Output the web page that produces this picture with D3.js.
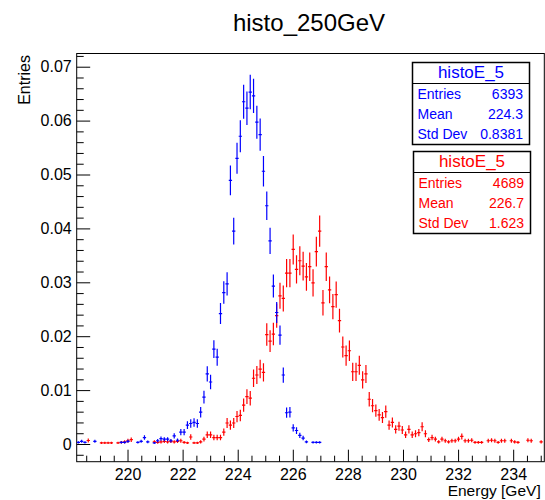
<!DOCTYPE html>
<html>
<head>
<meta charset="utf-8">
<script src="https://cdn.jsdelivr.net/npm/d3@7/dist/d3.min.js"></script>
<style>
  body { margin: 0; background: #fff; }
  svg { display: block; font-family: "Liberation Sans", Arial, Helvetica, sans-serif; }
</style>
</head>
<body>
<div id="histo"></div>
<script>
// histogram binning (low edge of bin 0, bin width in GeV)
const binLow = 218.155;
const binWidth = 0.12;

// blue: histoE_5 (normalised to 1)
const blueEntries = 6393;
const blueBin = [0,1,2,5,13,14,15,18,19,20,21,
  23,24,25,26,27,28,29,30,31,32,33,34,35,36,37,38,39,40,41,42,43,44,45,46,47,48,49,50,
  51,52,53,54,55,56,57,58,59,60,61,62,63,64,65,66,67,68,69,71,72,73];
const blueVal = [0.0003,0.0005,0.0003,0.0005,0.0003,0.0003,0.0005,0.0003,0.0005,0.0012,0.0004,
  0.0002,0.0006,0.0010,0.0009,0.0009,0.0006,0.0015,0.0007,0.0022,0.0022,0.0035,0.0038,0.0040,0.0038,
  0.0059,0.0087,0.0130,0.0115,0.0176,0.0161,0.0242,0.0281,0.0297,0.0489,0.0395,0.0530,0.0571,0.0635,
  0.0623,0.0653,0.0646,0.0597,0.0574,0.0506,0.0442,0.0377,0.0293,0.0244,0.0202,0.0128,0.0058,0.0059,
  0.0030,0.0025,0.0016,0.0011,0.0004,0.0003,0.0003,0.0003];

// red: histoE_5 (normalised to 1)
const redEntries = 4689;
const redBin = [3,7,8,9,10,12,13,14,15,16,
  23,24,25,26,27,28,29,30,31,32,33,34,35,36,37,38,39,40,41,42,43,44,45,46,47,48,49,50,
  51,52,53,54,55,56,57,58,59,60,61,62,63,64,65,66,67,68,69,70,71,72,73,74,75,76,77,78,79,80,
  81,82,83,84,85,86,87,88,89,90,91,92,93,94,95,96,97,98,99,100,101,102,103,104,105,106,107,108,109,110,
  111,112,113,114,115,116,117,118,119,120,121,122,124,125,126,127,128,129,131,132,133,136,137,140];
const redVal = [0.00065,0.0002,0.0002,0.0002,0.0002,0.0002,0.0003,0.0004,0.0006,0.0008,
  0.0004,0.0003,0.0004,0.0005,0.0004,0.0005,0.0004,0.0005,0.0006,0.0003,0.0002,0.0013,0.0002,0.0002,
  0.0004,0.0009,0.0017,0.0017,0.0012,0.0012,0.0012,0.0022,0.0039,0.0035,0.0039,0.0051,0.0053,0.0072,
  0.0088,0.0085,0.0122,0.0128,0.0139,0.0133,0.0203,0.0191,0.0204,0.0238,0.0275,0.0270,0.0317,0.0317,
  0.0361,0.0324,0.0340,0.0330,0.0310,0.0329,0.0299,0.0357,0.0395,0.0262,0.0329,0.0286,0.0255,0.0277,
  0.0229,0.0180,0.0164,0.0173,0.0134,0.0134,0.0146,0.0119,0.0130,0.0083,0.0071,0.0062,0.0054,0.0049,
  0.0060,0.0035,0.0040,0.0027,0.0033,0.0026,0.0017,0.0027,0.0017,0.0019,0.0021,0.0032,0.0019,0.0008,
  0.0012,0.0009,0.0004,0.0009,0.0006,0.0004,0.0006,0.0006,0.0009,0.0014,0.0006,0.0006,0.0007,0.0003,
  0.0003,0.0003,0.0006,0.0007,0.0006,0.0003,0.0006,0.0006,0.0006,0.0004,0.0003,0.0007,0.0006,0.0004];

// axis ticks and stats box text
const xTicks = [220,222,224,226,228,230,232,234];
const yTicks = [0,0.01,0.02,0.03,0.04,0.05,0.06,0.07];
const statNames = ["Entries","Mean","Std Dev"];
const blueStats = ["6393","224.3","0.8381"];
const redStats = ["4689","226.7","1.623"];

const W = 545, H = 500;
const frame = {left: 76.7, right: 544.3, top: 53.5, bottom: 461.7};

const svg = d3.select("#histo").append("svg")
    .attr("width", W)
    .attr("height", H);

const x = d3.scaleLinear()
    .domain([218.155, 235.13])
    .range([frame.left, frame.right]);

const y = d3.scaleLinear()
    .domain([-0.003284, 0.07245])
    .range([frame.bottom, frame.top]);

svg.append("clipPath").attr("id", "clip")
  .append("rect")
    .attr("x", frame.left).attr("y", frame.top)
    .attr("width", frame.right - frame.left)
    .attr("height", frame.bottom - frame.top);

// x axis: major + minor ticks pointing inward
const xMinor = d3.range(218.5, 235.1, 0.5).filter(d => xTicks.indexOf(d) < 0);
svg.append("g")
    .attr("transform", "translate(0," + frame.bottom + ")")
    .call(d3.axisBottom(x).tickValues(xMinor).tickSize(-6).tickFormat(""))
    .call(g => g.select(".domain").remove());
const gx = svg.append("g")
    .attr("transform", "translate(0," + frame.bottom + ")")
    .call(d3.axisBottom(x).tickValues(xTicks).tickSize(-12).tickPadding(6.5).tickFormat(d3.format("d")));
gx.select(".domain").remove();
gx.selectAll("text").attr("font-size", 16).attr("fill", "#000").style("font-family", "inherit");

// y axis
const yMinor = d3.range(-0.002, 0.0725, 0.002).filter(d => Math.abs(Math.round(d * 100) - d * 100) > 1e-6);
svg.append("g")
    .attr("transform", "translate(" + frame.left + ",0)")
    .call(d3.axisLeft(y).tickValues(yMinor).tickSize(-7).tickFormat(""))
    .call(g => g.select(".domain").remove());
const gy = svg.append("g")
    .attr("transform", "translate(" + frame.left + ",0)")
    .call(d3.axisLeft(y).tickValues(yTicks).tickSize(-13.5).tickPadding(5)
      .tickFormat(d => d === 0 ? "0" : d.toFixed(2)));
gy.select(".domain").remove();
gy.selectAll("text").attr("font-size", 16).attr("fill", "#000").style("font-family", "inherit");

svg.selectAll(".tick line").attr("stroke", "#000");

// frame
svg.append("rect")
    .attr("x", frame.left).attr("y", frame.top)
    .attr("width", frame.right - frame.left)
    .attr("height", frame.bottom - frame.top)
    .attr("fill", "none")
    .attr("stroke", "#000")
    .attr("stroke-width", 1);

// error-bar histograms
function drawHisto(bins, vals, entries, color) {
  const pts = bins.map((b, i) => ({
    lo: binLow + b * binWidth,
    hi: binLow + (b + 1) * binWidth,
    v: vals[i],
    err: Math.sqrt(vals[i] / entries)
  }));
  const g = svg.append("g").attr("clip-path", "url(#clip)")
      .attr("stroke", color).attr("stroke-width", 1.2);
  g.selectAll(".h").data(pts).enter().append("line")
      .attr("x1", d => x(d.lo)).attr("x2", d => x(d.hi))
      .attr("y1", d => y(d.v)).attr("y2", d => y(d.v));
  g.selectAll(".v").data(pts).enter().append("line")
      .attr("x1", d => x((d.lo + d.hi) / 2)).attr("x2", d => x((d.lo + d.hi) / 2))
      .attr("y1", d => y(d.v - d.err)).attr("y2", d => y(d.v + d.err));
}
drawHisto(redBin, redVal, redEntries, "#ff0000");
drawHisto(blueBin, blueVal, blueEntries, "#0000ff");

// titles
svg.append("text")
    .attr("x", 309).attr("y", 31)
    .attr("text-anchor", "middle")
    .attr("font-size", 24)
    .text("histo_250GeV");

svg.append("text")
    .attr("x", 540.7).attr("y", 495.5)
    .attr("text-anchor", "end")
    .attr("font-size", 15.5)
    .text("Energy [GeV]");

svg.append("text")
    .attr("transform", "translate(29.5,55) rotate(-90)")
    .attr("text-anchor", "end")
    .attr("font-size", 16)
    .text("Entries");

// stats boxes
function statBox(x0, y0, color, vals) {
  const w = 117, h = 82, head = 21;
  const g = svg.append("g").attr("transform", "translate(" + x0 + "," + y0 + ")");
  g.append("rect").attr("width", w).attr("height", h)
      .attr("fill", "#fff").attr("stroke", "#000").attr("stroke-width", 1.5);
  g.append("line").attr("x1", 0).attr("x2", w).attr("y1", head).attr("y2", head)
      .attr("stroke", "#000").attr("stroke-width", 1.2);
  g.append("text").attr("x", w / 2).attr("y", 15.5)
      .attr("text-anchor", "middle").attr("font-size", 17).attr("fill", color)
      .text("histoE_5");
  statNames.forEach((name, i) => {
    const ty = 36 + i * 20.3;
    g.append("text").attr("x", 5).attr("y", ty)
        .attr("font-size", 14).attr("fill", color).text(name);
    g.append("text").attr("x", w - 6.5).attr("y", ty)
        .attr("text-anchor", "end").attr("font-size", 14).attr("fill", color).text(vals[i]);
  });
}
statBox(412.5, 62.5, "#0000ff", blueStats);
statBox(413.5, 151.5, "#ff0000", redStats);
</script>
</body>
</html>
